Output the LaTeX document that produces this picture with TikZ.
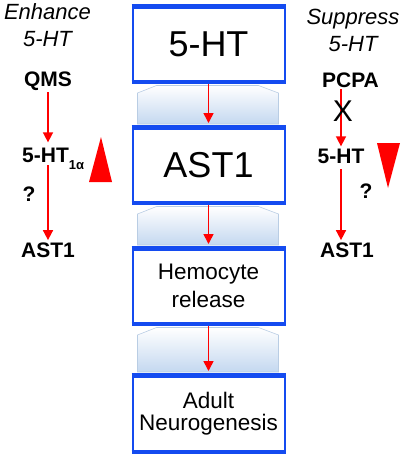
\documentclass[tikz,border=0pt]{standalone}
\usepackage{fontspec}
\setmainfont{Liberation Sans}
\usetikzlibrary{arrows.meta,positioning,calc}
\definecolor{boxblue}{RGB}{20,75,240}
\definecolor{linkblue}{RGB}{196,216,240}
\definecolor{linkedge}{RGB}{185,205,228}

\begin{document}
\begin{tikzpicture}[x=1pt, y=-1pt,
    stage/.style={draw=boxblue, line width=2pt, fill=white, minimum width=152pt, minimum height=78pt, align=center, inner sep=2pt},
    band/.style={boxblue, line width=4.5pt},
    flow/.style={red, line width=1.6pt, -{Triangle[width=10pt,length=10pt]}},
    side/.style={font=\fontsize{21}{24}\selectfont\bfseries, inner sep=2pt},
    head/.style={font=\fontsize{22}{27}\selectfont\itshape, align=center, inner sep=0pt},
    linkshade/.style={top color=white, bottom color=linkblue, draw=linkedge, line width=0.6pt}]
    \useasboundingbox (0,0) rectangle (403,458);

    % central column
    \node [stage, font=\fontsize{36}{40}\selectfont] (ht) at (208.5,44) {5-HT};
    \node [stage, font=\fontsize{36}{40}\selectfont, below=41pt of ht] (ast) {AST1};
    \node [stage, font=\fontsize{22.5}{28}\selectfont, below=41pt of ast] (hemo) {Hemocyte\\release};
    \node [stage, font=\fontsize{22.5}{22}\selectfont, minimum height=79pt, below=47pt of hemo] (neuro) {Adult\\Neurogenesis};

    \foreach \n in {ht,ast,hemo,neuro} {
        \draw [band] ([yshift=-2.25pt]\n.north west) -- ([yshift=-2.25pt]\n.north east);
        \draw [band] ([yshift=2.25pt]\n.south west) -- ([yshift=2.25pt]\n.south east);
    }

    \foreach \a/\b in {ht/ast,ast/hemo,hemo/neuro}
        \shade [linkshade] ($(\a.south west)+(6,9)$) -- ($(\a.south west)+(25,1.5)$) -- ($(\a.south east)+(-27,1.5)$)
            -- ($(\a.south east)+(-7,9)$) -- ($(\b.north east)+(-7,-1)$) -- ($(\b.north west)+(6,-1)$) -- cycle;

    \draw [flow, shorten >=2pt] (ht) -- (ast);
    \draw [flow, shorten >=2pt] (ast) -- (hemo);
    \draw [flow, shorten >=2pt] (hemo) -- (neuro);

    % enhance side
    \node [head] (enh) at (47.5,25.5) {Enhance\\5-HT};
    \node [side, anchor=base] (qms) at (48,86) {QMS};
    \node [side, anchor=base west] (ht1a) at (20,162) {5-HT\raisebox{-7pt}{\fontsize{13}{13}\selectfont 1α}};
    \node [side] (askl) at (29,194) {?};
    \node [side, anchor=base] (astl) at (48,257) {AST1};
    \draw [flow, shorten >=3pt] (qms) -- (qms |- ht1a.north);
    \draw [flow, shorten <=3pt] (ht1a.base -| qms) -- (astl);
    \fill [red] (89,182) -- (112,182) -- (101,137) -- cycle;

    % suppress side
    \node [head] (sup) at (353,30.5) {Suppress\\5-HT};
    \node [side, anchor=base] (pcpa) at (350.5,87) {PCPA};
    \node [side, anchor=base] (htr) at (341,163) {5-HT};
    \node [side] (askr) at (366,191) {?};
    \node [side, anchor=base] (astr) at (347,257) {AST1};
    \draw [flow] (pcpa.south -| htr) -- (htr);
    \draw [flow, shorten <=4pt] (htr) -- (astr.north -| htr);
    \node [font=\fontsize{30}{30}\selectfont, inner sep=0pt] (block) at (343,111) {X};
    \fill [red] (377,143) -- (400,143) -- (388,188) -- cycle;
\end{tikzpicture}
\end{document}
